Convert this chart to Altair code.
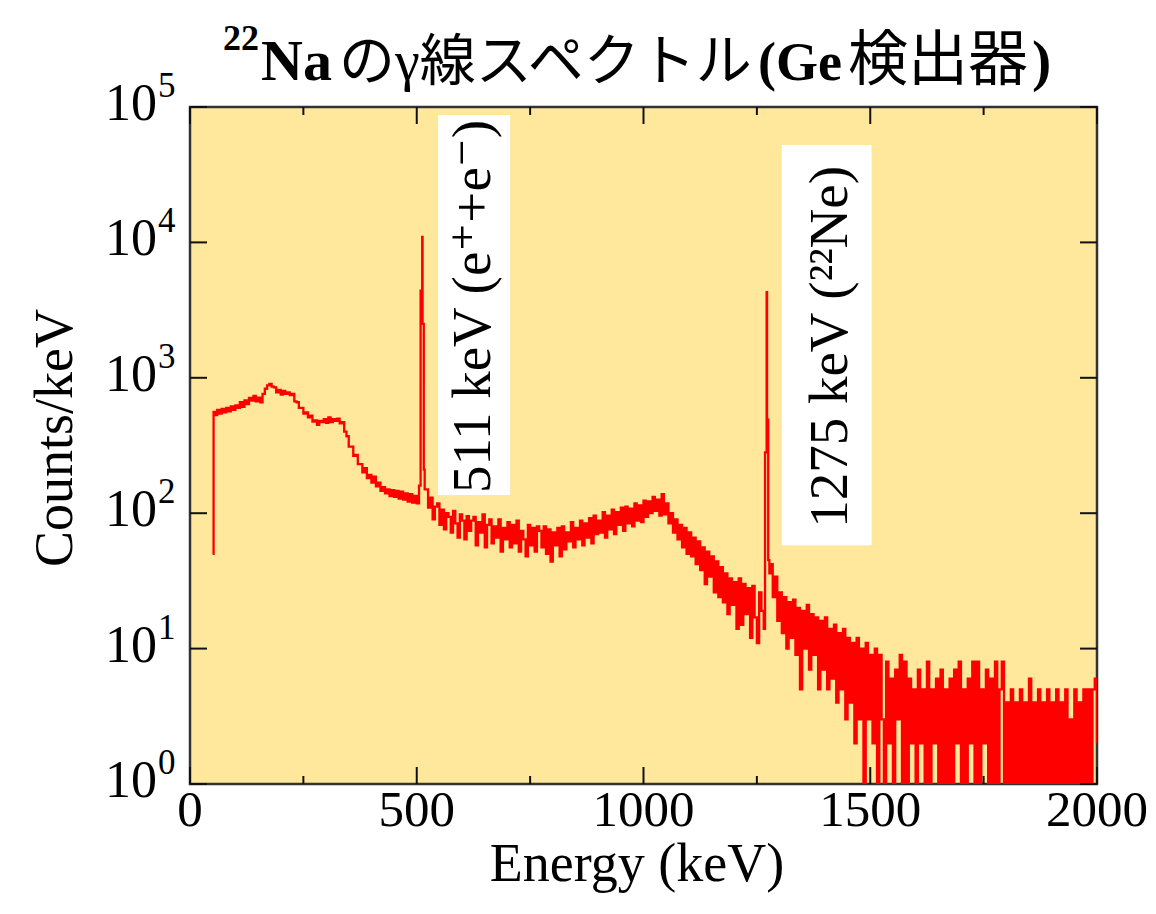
import altair as alt
import pandas as pd

SERIF = "Liberation Serif, DejaVu Serif, serif"
CJK = "Liberation Serif, Noto Sans CJK JP, sans-serif"

# ---- spectrum values (counts/keV) ----
edge_energy = [50, 52]
edge_counts = [50, 560]

seg1_start, seg1_step = 55, 5
seg1_counts = [530, 580, 545, 590, 555, 600, 565, 615, 580, 625,
               600, 660, 610, 680, 640, 710, 680, 735, 670, 715,
               660, 760, 830, 880, 900, 860, 850, 780, 815, 750,
               800, 760, 780, 745, 760, 670, 660, 600, 600, 545,
               555, 510, 525, 475, 485, 450, 480, 470, 495, 465,
               510, 470, 495, 480, 500, 460, 470, 400, 370, 310,
               310, 265, 270, 230, 230, 200, 215, 182, 192, 168,
               186, 158, 168, 146, 156, 140, 150, 134, 148, 132,
               146, 128, 144, 126, 140, 122, 138, 120, 134, 118,
               160]

peak511_energy = [508.5, 512.0, 512.8, 515.5, 517.5]
peak511_counts = [4400, 11000, 2500, 210, 150]

seg2_start, seg2_step = 520, 5
seg2_counts = [150, 110, 130, 90, 112, 118, 82, 106, 76, 100,
               94, 72, 104, 84, 66, 98, 88, 64, 95, 74,
               88, 94, 58, 86, 72, 98, 56, 82, 90, 60,
               80, 66, 90, 52, 78, 64, 86, 56, 82, 60,
               88, 52, 74, 64, 48, 82, 58, 78, 52, 80,
               74, 56, 80, 50, 76, 44, 72, 58, 78, 48,
               80, 54, 72, 62, 86, 56, 78, 64, 88, 58,
               84, 66, 92, 60, 96, 70, 88, 72, 102, 66,
               96, 76, 106, 70, 102, 82, 110, 74, 112, 84,
               108, 80, 118, 88, 114, 86, 124, 94, 122, 100,
               132, 104, 126, 96, 138, 98, 118, 84, 100, 72,
               90, 64, 82, 56, 78, 50, 72, 48, 66, 42,
               62, 38, 56, 30, 52, 34, 48, 26, 44, 24,
               40, 22, 36, 18, 33, 21, 31, 14, 33, 15,
               30, 18, 28, 12, 29, 17, 11, 26, 19, 14]

peak1275_energy = [1268.0, 1271.5, 1272.5, 1275.0, 1277.5]
peak1275_counts = [281, 4300, 490, 45, 36]

seg3_start, seg3_step = 1280, 5
seg3_counts = [42, 24, 34, 16, 26, 13, 24, 10, 22, 12,
               23, 9, 20, 5, 19, 10, 21, 7, 18, 9,
               17, 5, 16, 7, 17, 5, 14, 6, 15, 4,
               13, 5, 14, 3, 12, 4, 11, 2, 12, 3,
               10, 1, 11, 3, 9, 2, 10, 0, 9, 3,
               0, 8, 2, 6, 1, 7, 3, 9, 1, 8,
               0, 6, 2, 5, 0, 7, 2, 5, 1, 8,
               0, 5, 2, 6, 0, 7, 1, 5, 0, 6,
               1, 7, 2, 8, 0, 5, 0, 6, 2, 8,
               0, 8, 1, 5, 2, 7, 0, 6, 1, 8,
               0, 5, 8, 0, 4, 1, 5, 0, 4, 0,
               5, 1, 4, 0, 6, 0, 4, 1, 5, 0,
               4, 0, 5, 1, 4, 0, 5, 1, 4, 0,
               5, 0, 3, 1, 5, 0, 4, 0, 5, 1,
               5, 0, 5, 6, 2]

energy = (edge_energy
          + [seg1_start + seg1_step * i for i in range(len(seg1_counts))]
          + peak511_energy
          + [seg2_start + seg2_step * i for i in range(len(seg2_counts))]
          + peak1275_energy
          + [seg3_start + seg3_step * i for i in range(len(seg3_counts))])
counts = (edge_counts + seg1_counts + peak511_counts + seg2_counts
          + peak1275_counts + seg3_counts)
spec = pd.DataFrame({"E": energy, "c": counts}).sort_values("E")

# ---- axes ----
x_ticks = [0, 500, 1000, 1500, 2000]
x_minor = [250, 750, 1250, 1750]
y_ticks = [1, 10, 100, 1000, 10000, 100000]
y_exps = ["0", "1", "2", "3", "4", "5"]

# ---- annotations (data space) ----
ann = pd.DataFrame({
    "text": ["511 keV (e\u207a+e\u207b)", "1275 keV (\u00b2\u00b2Ne)"],
    "e0": [547, 1305], "e1": [706, 1503],
    "c0": [136, 58], "c1": [87300, 52400],
    "et": [661, 1449], "ct": [141, 78],
})

W, H = 907, 677
xs = alt.Scale(domain=[0, 2000], nice=False, zero=False)
ys = alt.Scale(type="log", domain=[1, 100000], nice=False)

def X(f):
    return alt.X(f, scale=xs, axis=None, title=None)

def Y(f):
    return alt.Y(f, scale=ys, axis=None, title=None)

line = alt.Chart(spec).transform_calculate(
    cd="max(datum.c, 0.3)"
).mark_line(interpolate="step-after", color="#FF0000", strokeWidth=2.3,
            clip=True).encode(x=X("E:Q"), y=Y("cd:Q"))

boxes = alt.Chart(ann).mark_rect(color="white").encode(
    x=X("e0:Q"), x2="e1:Q", y=Y("c0:Q"), y2="c1:Q")
ann_text = alt.Chart(ann).mark_text(
    angle=270, align="left", baseline="alphabetic", font=SERIF,
    fontSize=55, color="black").encode(x=X("et:Q"), y=Y("ct:Q"), text="text:N")

xt = pd.DataFrame({"e": x_ticks, "lab": [str(v) for v in x_ticks]})
xm = pd.DataFrame({"e": x_minor})
yt = pd.DataFrame({"v": y_ticks, "exp": y_exps})

tick_style = dict(color="#111111", strokeWidth=2)
xt_bot = alt.Chart(xt).mark_rule(**tick_style).encode(
    x=X("e:Q"), y=alt.value(H), y2=alt.value(H - 17))
xt_top = alt.Chart(xt).mark_rule(**tick_style).encode(
    x=X("e:Q"), y=alt.value(0), y2=alt.value(17))
xm_bot = alt.Chart(xm).mark_rule(**tick_style).encode(
    x=X("e:Q"), y=alt.value(H), y2=alt.value(H - 8))
xm_top = alt.Chart(xm).mark_rule(**tick_style).encode(
    x=X("e:Q"), y=alt.value(0), y2=alt.value(8))
yt_left = alt.Chart(yt).mark_rule(**tick_style).encode(
    y=Y("v:Q"), x=alt.value(0), x2=alt.value(17))
yt_right = alt.Chart(yt).mark_rule(**tick_style).encode(
    y=Y("v:Q"), x=alt.value(W), x2=alt.value(W - 17))

x_lab = alt.Chart(xt).mark_text(
    align="center", baseline="alphabetic", font=SERIF, fontSize=51,
    color="black").encode(x=X("e:Q"), y=alt.value(H + 42), text="lab:N")
y_lab10 = alt.Chart(yt).mark_text(
    align="right", baseline="alphabetic", font=SERIF, fontSize=52, dy=13,
    color="black").encode(y=Y("v:Q"), x=alt.value(-33), text=alt.value("10"))
y_labexp = alt.Chart(yt).mark_text(
    align="left", baseline="alphabetic", font=SERIF, fontSize=35, dy=-10,
    color="black").encode(y=Y("v:Q"), x=alt.value(-32), text="exp:N")

def label(txt, px, py, size, weight="normal", font=SERIF, angle=0, align="left"):
    kw = dict(align=align, baseline="alphabetic", font=font, fontSize=size,
              fontWeight=weight, color="black")
    if angle:
        kw["angle"] = angle
    return alt.Chart(pd.DataFrame({"t": [txt]})).mark_text(**kw).encode(
        x=alt.value(px), y=alt.value(py), text="t:N")

x_title = label("Energy (keV)", 447, H + 97, 54, align="center")
y_title = label("Counts/keV", -118, 331, 54, angle=270, align="center")

title_parts = [
    label("22", 33, -57, 36, "bold"),
    label("Na", 71, -27, 58, "bold"),
    label("の\u03b3線スペクトル", 149, -27, 56, "normal", CJK),
    label("(Ge", 568, -27, 54, "bold"),
    label("検出器", 658, -27, 60, "normal", CJK),
    label(")", 842, -27, 58, "bold"),
]

chart = alt.layer(
    line, boxes, ann_text,
    xt_bot, xt_top, xm_bot, xm_top, yt_left, yt_right,
    x_lab, y_lab10, y_labexp, x_title, y_title, *title_parts
).properties(
    width=W, height=H,
    padding={"left": 190, "top": 107, "right": 59, "bottom": 130},
    autosize=alt.AutoSizeParams(type="none"),
    background="white",
).configure_view(fill="#FFE89C", stroke="#333333", strokeWidth=2.5)

chart.save("out.html", embed_options={"renderer": "svg", "actions": False})
